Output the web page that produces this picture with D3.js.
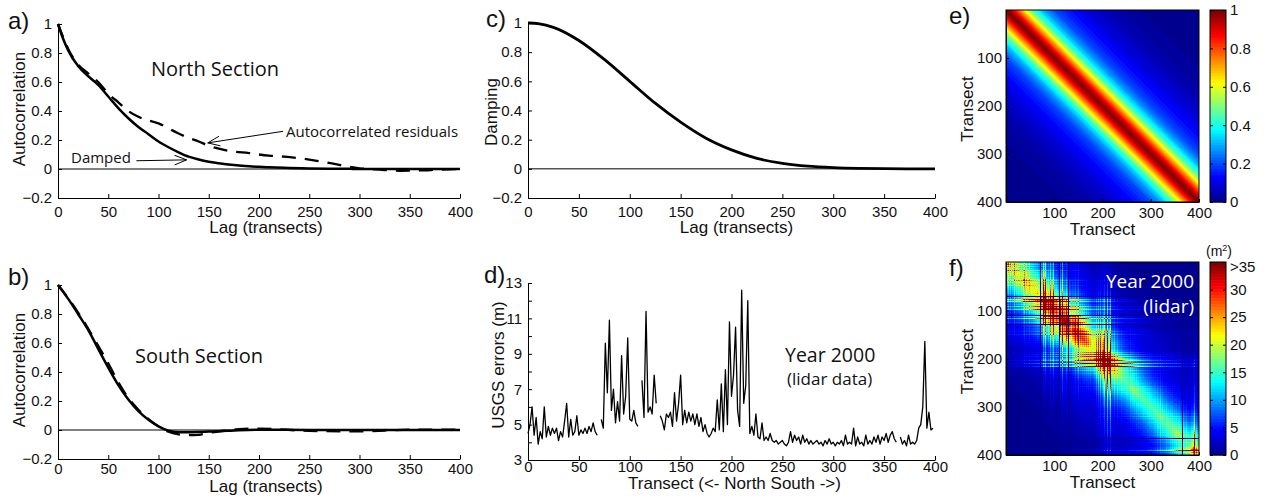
<!DOCTYPE html>
<html lang="en">
<head>
<meta charset="utf-8" />
<title>Autocorrelation and covariance</title>
<script src="https://cdn.jsdelivr.net/npm/d3@7"></script>
<style>
    body { margin: 0; background: #fff; }
    svg { display: block; }
    .note { font-family: "Open Sans", "Noto Sans", sans-serif; fill: #111; }
    .lab { font-family: "Liberation Sans", Arial, sans-serif; fill: #111; }
</style>
</head>
<body>
<svg id="fig" width="1268" height="501"></svg>
<script>
// ---- data ----
// a) North section
const lagNorth = [0, 5, 10, 20, 30, 40, 50, 60, 70, 80, 90, 100, 110, 120, 130, 140, 150, 160, 175, 190, 200, 210, 225, 250, 275, 290, 300, 320, 340, 360, 380, 400];
const northDamped = [1, 0.9, 0.82, 0.71, 0.64, 0.58, 0.5, 0.42, 0.35, 0.29, 0.24, 0.19, 0.15, 0.115, 0.085, 0.065, 0.05, 0.04, 0.028, 0.019, 0.015, 0.012, 0.008, 0.004, 0.002, 0.001, 0, 0, 0, 0, 0, 0];
const northResid = [1, 0.91, 0.83, 0.72, 0.66, 0.6, 0.52, 0.46, 0.4, 0.36, 0.335, 0.315, 0.28, 0.245, 0.215, 0.19, 0.16, 0.14, 0.12, 0.11, 0.1, 0.092, 0.085, 0.065, 0.035, 0.015, 0.005, -0.005, -0.012, -0.01, -0.004, 0];

// b) South section
const lagSouth = [0, 10, 20, 30, 40, 50, 60, 70, 80, 90, 100, 110, 120, 130, 140, 150, 160, 180, 200, 250, 300, 350, 400];
const southDamped = [1, 0.906, 0.8, 0.69, 0.56, 0.43, 0.31, 0.21, 0.13, 0.07, 0.025, -0.005, -0.015, -0.016, -0.014, -0.011, -0.008, -0.001, 0.002, 0, 0, 0, 0];
const southResid = [1, 0.91, 0.81, 0.7, 0.58, 0.46, 0.33, 0.22, 0.14, 0.075, 0.025, -0.012, -0.03, -0.036, -0.033, -0.02, -0.01, 0.006, 0.01, -0.006, -0.009, 0.002, 0.002];

// c) damping function
const lagDamp = [0, 10, 25, 50, 75, 100, 125, 150, 175, 200, 225, 250, 275, 300, 325, 350, 400];
const damping = [1, 0.995, 0.97, 0.88, 0.75, 0.6, 0.45, 0.32, 0.21, 0.13, 0.072, 0.038, 0.018, 0.008, 0.003, 0.001, 0];

// d) USGS errors (m), one value every 2 transects, null = no data
const transectStep = 2;
const usgsErrors = [
    4.5, 5.0, 6.0, 4.4, 5.4, 3.9, 4.6, 4.2, 6.0, 4.3,
    4.9, 4.4, 4.8, 4.5, 4.8, 4.1, 4.6, 4.3, 5.2, 6.2,
    4.3, 5.3, 4.4, 4.6, 5.5, 4.4, 4.7, 4.5, 4.8, 4.5,
    4.9, 4.6, 5.1, 4.6, 4.4, null, 5.3, 4.8, 9.6, 6.8,
    10.9, 5.8, 7.0, 5.1, 6.3, 5.2, 8.9, 5.6, 6.6, 9.9,
    5.3, 5.2, 5.8, 5.1, 4.9, null, 7.5, 5.4, 11.4, 5.7,
    6.0, 5.6, 7.8, 6.2, null, 5.5, 5.2, 4.7, 5.6, 5.4,
    5.7, 4.9, 6.8, 5.2, 6.2, 7.8, 5.0, 5.8, 5.1, 5.7,
    5.2, 5.6, 5.0, 5.6, 4.9, 5.4, 4.6, 5.0, 4.5, 4.3,
    4.5, 4.8, 4.6, 6.4, 4.7, 7.3, 4.6, 8.1, 5.0, 10.8,
    6.6, 7.8, 10.5, 5.8, 4.9, 12.6, 6.2, 7.2, 12.0, 4.5,
    4.9, 4.4, 5.6, 4.3, 4.2, 5.1, 4.1, 4.3, 4.1, 4.5,
    4.1, 4.0, 4.1, 3.9, 4.0, 4.1, 3.9, 3.8, 4.0, 4.6,
    4.0, 4.4, 4.1, 4.3, 3.9, 4.4, 4.0, 4.2, 3.9, 4.1,
    3.9, 4.0, 4.1, 3.9, 4.0, 3.8, 4.1, 3.9, 4.2, 3.9,
    4.0, 3.8, 4.0, 3.9, 4.1, 3.8, 4.4, 3.9, 4.0, 3.9,
    4.8, 3.8, 4.3, 3.9, 4.0, 3.8, 4.4, 3.9, 4.1, 3.9,
    4.3, 4.0, 4.4, 3.9, 4.3, 4.1, 4.5, 4.0, 4.4, 4.6,
    4.2, 4.0, null, 4.3, 3.9, 4.1, 3.8, 4.4, 3.9, 4.0,
    3.9, 4.1, 4.8, 5.0, 6.0, 9.7, 4.8, 5.7, 4.7, 4.8
];

// e) correlation as a function of transect separation
const lagCorr = [0, 10, 20, 30, 40, 50, 60, 70, 80, 90, 100, 120, 140, 160, 180, 200, 230, 260, 300, 400];
const corrByLag = [1, 0.93, 0.83, 0.72, 0.61, 0.5, 0.41, 0.34, 0.28, 0.24, 0.2, 0.16, 0.13, 0.1, 0.075, 0.055, 0.035, 0.02, 0.01, 0];

// ticks
const lagTicks = [0, 50, 100, 150, 200, 250, 300, 350, 400];
const corrTicks = [-0.2, 0, 0.2, 0.4, 0.6, 0.8, 1];
const errTicks = [3, 4, 5, 6, 7, 8, 9, 10, 11, 12, 13];
const transectTicks = [100, 200, 300, 400];
const cbTicksE = [0, 0.2, 0.4, 0.6, 0.8, 1];
const cbTicksF = [0, 5, 10, 15, 20, 25, 30, 35];

const svg = d3.select("#fig");

// MATLAB style jet, 64 levels
const jetBase = d3.scaleLinear()
    .domain([0, 1 / 8, 3 / 8, 5 / 8, 7 / 8, 1])
    .range(["#00008f", "#0000ff", "#00ffff", "#ffff00", "#ff0000", "#800000"]);
const jet64 = d3.range(64).map(k => jetBase(k / 63));
const jetRgb = jet64.map(c => d3.rgb(c));

function styleAxis(g, size) {
    g.selectAll("text").attr("class", "lab").attr("font-size", size).attr("font-family", null);
    g.selectAll("line, path").attr("stroke", "#000");
}

// line panel (a, b, c, d)
function linePanel(o) {
    const g = svg.append("g");
    const x = d3.scaleLinear().domain([0, 400]).range(o.xr);
    const y = d3.scaleLinear().domain(o.yd).range(o.yr);
    g.append("g").attr("transform", `translate(0,${o.yr[0]})`)
        .call(d3.axisBottom(x).tickValues(lagTicks).tickSize(-4).tickSizeOuter(0).tickPadding(o.xpad))
        .call(a => styleAxis(a, 15));
    g.append("g").attr("transform", `translate(${o.xr[0]},0)`)
        .call(d3.axisLeft(y).tickValues(o.yticks).tickFormat(o.yfmt).tickSize(-4).tickSizeOuter(0).tickPadding(6))
        .call(a => styleAxis(a, 15));
    g.append("text").attr("class", "lab").attr("font-size", 17)
        .attr("x", (o.xr[0] + o.xr[1]) / 2 + o.xlabDx).attr("y", o.xlabY)
        .attr("text-anchor", "middle").text(o.xlab);
    g.append("text").attr("class", "lab").attr("font-size", 17)
        .attr("transform", `translate(${o.ylabX},${o.ylabY}) rotate(-90)`)
        .attr("text-anchor", "middle").text(o.ylab);
    g.append("text").attr("class", "lab").attr("font-size", 24)
        .attr("x", o.tag[0]).attr("y", o.tag[1]).text(o.tagText);
    if (o.zero) {
        g.append("line").attr("x1", x(0)).attr("x2", x(400)).attr("y1", y(0)).attr("y2", y(0))
            .attr("stroke", "#000").attr("stroke-width", 1);
    }
    return { g, x, y };
}

const curve = (x, y, xs) => d3.line().x((d, i) => x(xs[i])).y(d => y(d)).curve(d3.curveMonotoneX);

// ---- a) ----
const pa = linePanel({
    xr: [58, 460], yd: [-0.2, 1], yr: [198, 24], yticks: corrTicks, yfmt: d3.format("~g"), xpad: 8,
    xlab: "Lag (transects)", xlabDx: 7, xlabY: 233, ylab: "Autocorrelation", ylabX: 25, ylabY: 109,
    tag: [8, 29], tagText: "a)", zero: true
});
pa.g.append("path").datum(northResid).attr("d", curve(pa.x, pa.y, lagNorth))
    .attr("fill", "none").attr("stroke", "#000").attr("stroke-width", 2.3).attr("stroke-dasharray", "14,9");
pa.g.append("path").datum(northDamped).attr("d", curve(pa.x, pa.y, lagNorth))
    .attr("fill", "none").attr("stroke", "#000").attr("stroke-width", 2.5);
pa.g.append("text").attr("class", "note").attr("font-size", 20).attr("x", 151).attr("y", 76).text("North Section");
pa.g.append("text").attr("class", "note").attr("font-size", 15).attr("x", 286).attr("y", 137).text("Autocorrelated residuals");
pa.g.append("text").attr("class", "note").attr("font-size", 15).attr("x", 71).attr("y", 163).text("Damped");

function arrow(p, from, to) {
    const x0 = p.x(from[0]), y0 = p.y(from[1]), x1 = p.x(to[0]), y1 = p.y(to[1]);
    const ang = Math.atan2(y1 - y0, x1 - x0), L = 13, s = 0.38;
    const path = d3.path();
    path.moveTo(x0, y0); path.lineTo(x1, y1);
    path.moveTo(x1 - L * Math.cos(ang - s), y1 - L * Math.sin(ang - s));
    path.lineTo(x1, y1);
    path.lineTo(x1 - L * Math.cos(ang + s), y1 - L * Math.sin(ang + s));
    p.g.append("path").attr("d", path.toString()).attr("fill", "none").attr("stroke", "#000").attr("stroke-width", 1);
}
arrow(pa, [224, 0.26], [149, 0.18]);
arrow(pa, [78, 0.057], [128, 0.063]);

// ---- b) ----
const pb = linePanel({
    xr: [58, 460], yd: [-0.2, 1], yr: [459, 285], yticks: corrTicks, yfmt: d3.format("~g"), xpad: 4,
    xlab: "Lag (transects)", xlabDx: 7, xlabY: 492, ylab: "Autocorrelation", ylabX: 25, ylabY: 370,
    tag: [8, 285], tagText: "b)", zero: true
});
pb.g.append("path").datum(southResid).attr("d", curve(pb.x, pb.y, lagSouth))
    .attr("fill", "none").attr("stroke", "#000").attr("stroke-width", 2.3).attr("stroke-dasharray", "14,9");
pb.g.append("path").datum(southDamped).attr("d", curve(pb.x, pb.y, lagSouth))
    .attr("fill", "none").attr("stroke", "#000").attr("stroke-width", 2.5);
pb.g.append("text").attr("class", "note").attr("font-size", 20).attr("x", 135).attr("y", 363).text("South Section");

// ---- c) ----
const pc = linePanel({
    xr: [528, 935], yd: [-0.2, 1], yr: [198, 23], yticks: corrTicks, yfmt: d3.format("~g"), xpad: 8,
    xlab: "Lag (transects)", xlabDx: 5, xlabY: 233, ylab: "Damping", ylabX: 497, ylabY: 112,
    tag: [486, 27], tagText: "c)", zero: true
});
pc.g.append("path").datum(damping).attr("d", curve(pc.x, pc.y, lagDamp))
    .attr("fill", "none").attr("stroke", "#000").attr("stroke-width", 2.8);

// ---- d) ----
const pd = linePanel({
    xr: [528, 935], yd: [3, 13], yr: [460, 283], yticks: errTicks, yfmt: d => (d % 2 ? d : ""), xpad: 1,
    xlab: "Transect (<- North South ->)", xlabDx: 3, xlabY: 489, ylab: "USGS  errors (m)", ylabX: 504, ylabY: 365,
    tag: [484, 283], tagText: "d)", zero: false
});
pd.g.append("path").datum(usgsErrors)
    .attr("d", d3.line().defined(d => d != null).x((d, i) => pd.x(i * transectStep)).y(d => pd.y(d)))
    .attr("fill", "none").attr("stroke", "#000").attr("stroke-width", 1.3).attr("stroke-linejoin", "round");
pd.g.append("text").attr("class", "note").attr("font-size", 19.5).attr("x", 785).attr("y", 362).text("Year 2000");
pd.g.append("text").attr("class", "note").attr("font-size", 17).attr("x", 787).attr("y", 385).text("(lidar data)");

// ---- heat map panels (e, f) ----
const rho = d3.scaleLinear().domain(lagCorr).range(corrByLag).clamp(true);

function heatPanel(o) {
    const g = svg.append("g");
    const x = d3.scaleLinear().domain([0, 400]).range(o.xr);
    const y = d3.scaleLinear().domain([0, 400]).range(o.yr);
    const level = d3.scaleQuantize().domain(o.cd).range(d3.range(64));
    const w = Math.round(o.xr[1] - o.xr[0]), h = Math.round(o.yr[1] - o.yr[0]);
    const cv = document.createElement("canvas");
    cv.width = w; cv.height = h;
    const ctx = cv.getContext("2d");
    const img = ctx.createImageData(w, h);
    for (let py = 0; py < h; py++) {
        const tj = y.invert(o.yr[0] + py + 0.5);
        for (let px = 0; px < w; px++) {
            const ti = x.invert(o.xr[0] + px + 0.5);
            const c = jetRgb[level(o.value(ti, tj))];
            const k = (py * w + px) * 4;
            img.data[k] = c.r; img.data[k + 1] = c.g; img.data[k + 2] = c.b; img.data[k + 3] = 255;
        }
    }
    ctx.putImageData(img, 0, 0);
    g.append("image").attr("href", cv.toDataURL()).attr("x", o.xr[0]).attr("y", o.yr[0])
        .attr("width", w).attr("height", h).attr("preserveAspectRatio", "none");
    g.append("rect").attr("x", o.xr[0]).attr("y", o.yr[0]).attr("width", w).attr("height", h)
        .attr("fill", "none").attr("stroke", "#000");

    g.append("g").attr("transform", `translate(0,${o.yr[1]})`)
        .call(d3.axisBottom(x).tickValues(transectTicks).tickSize(-3).tickSizeOuter(0).tickPadding(5))
        .call(a => styleAxis(a, 15));
    g.append("g").attr("transform", `translate(${o.xr[0]},0)`)
        .call(d3.axisLeft(y).tickValues(transectTicks).tickSize(-3).tickSizeOuter(0).tickPadding(4))
        .call(a => styleAxis(a, 15));
    g.append("text").attr("class", "lab").attr("font-size", 17)
        .attr("x", (o.xr[0] + o.xr[1]) / 2).attr("y", o.yr[1] + 33).attr("text-anchor", "middle").text("Transect");
    g.append("text").attr("class", "lab").attr("font-size", 17)
        .attr("transform", `translate(973,${(o.yr[0] + o.yr[1]) / 2 + 3}) rotate(-90)`)
        .attr("text-anchor", "middle").text("Transect");
    g.append("text").attr("class", "lab").attr("font-size", 24)
        .attr("x", 949).attr("y", o.yr[0] + 14).text(o.tagText);

    // colour bar
    const cx = 1210, cw = 16;
    const cy = d3.scaleLinear().domain(o.cd).range([o.yr[1], o.yr[0]]);
    const span = o.cd[1] - o.cd[0];
    g.selectAll("rect.cb").data(jet64).join("rect").attr("class", "cb")
        .attr("x", cx).attr("width", cw)
        .attr("y", (d, k) => cy(o.cd[0] + (k + 1) * span / 64))
        .attr("height", (d, k) => cy(o.cd[0] + k * span / 64) - cy(o.cd[0] + (k + 1) * span / 64) + 0.5)
        .attr("fill", d => d);
    g.append("rect").attr("x", cx).attr("y", o.yr[0]).attr("width", cw).attr("height", h)
        .attr("fill", "none").attr("stroke", "#000");
    g.append("g").attr("transform", `translate(${cx + cw},0)`)
        .call(d3.axisRight(cy).tickValues(o.cticks).tickFormat(o.cfmt).tickSize(-3).tickSizeOuter(0).tickPadding(4))
        .call(a => styleAxis(a, 15))
        .call(a => a.select(".domain").remove())
        .call(a => a.selectAll("text").filter(d => d === o.cd[1] && o.topShift).attr("dy", "0.62em"));
    g.append("g").attr("transform", `translate(${cx},0)`)
        .call(d3.axisLeft(cy).tickValues(o.cticks).tickFormat("").tickSize(-3).tickSizeOuter(0))
        .call(a => styleAxis(a, 15))
        .call(a => a.select(".domain").remove());
    return g;
}

heatPanel({
    xr: [1006, 1199], yr: [10, 202], cd: [0, 1], cticks: cbTicksE, cfmt: d3.format("~g"), tagText: "e)",
    value: (ti, tj) => rho(Math.abs(ti - tj))
});

const errAt = t => usgsErrors[Math.min(usgsErrors.length - 1, Math.floor(t / transectStep))];
const pf = heatPanel({
    xr: [1006, 1199], yr: [262, 455], cd: [0, 35], cticks: cbTicksF, topShift: true,
    cfmt: d => (d === 35 ? ">35" : d), tagText: "f)",
    value: (ti, tj) => {
        const a = errAt(ti), b = errAt(tj);
        return (a == null || b == null) ? 0 : a * b * rho(Math.abs(ti - tj));
    }
});
pf.append("text").attr("class", "note").attr("font-size", 19).style("fill", "#fff")
    .attr("x", 1194).attr("y", 288).attr("text-anchor", "end").text("Year 2000");
pf.append("text").attr("class", "note").attr("font-size", 19).style("fill", "#fff")
    .attr("x", 1194).attr("y", 313).attr("text-anchor", "end").text("(lidar)");
pf.append("text").attr("class", "lab").attr("font-size", 14)
    .attr("x", 1219).attr("y", 256).attr("text-anchor", "middle")
    .html('(m<tspan dy="-5" font-size="9">2</tspan><tspan dy="5">)</tspan>');
</script>
</body>
</html>
